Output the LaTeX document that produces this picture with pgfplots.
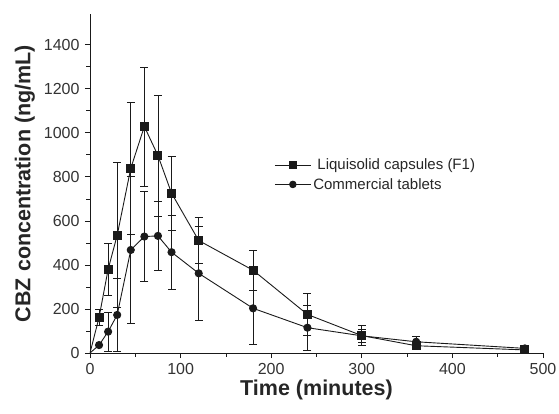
\documentclass[border=0pt]{standalone}
\usepackage{pgfplots}
\pgfplotsset{compat=1.18}
\usepackage{fontspec}
\setmainfont{Liberation Sans}
\definecolor{ink}{HTML}{1A1A1A}
\newcommand{\legfont}{\fontsize{15}{17}\selectfont}
\begin{document}
\begin{tikzpicture}
\useasboundingbox (-90pt,-60pt) rectangle (469pt,353pt);
\begin{axis}[
  at={(0pt,0pt)}, anchor=origin,
  scale only axis, width=453pt, height=339pt,
  xmin=0, xmax=500, ymin=0, ymax=1540,
  axis x line=bottom, axis y line=left,
  axis line style={-, ink, line width=0.9pt},
  xtick={0,100,...,500}, ytick={0,200,...,1400},
  minor x tick num=1, minor y tick num=1,
  tick align=outside,
  major tick length=5pt, minor tick length=3.5pt,
  tick style={ink, line width=0.8pt},
  ticklabel style={font=\fontsize{16}{18}\selectfont, text=black!80},
  xticklabel style={yshift=-2pt},
  yticklabel style={xshift=-2pt},
  /pgf/number format/assume math mode=true,
  /pgf/number format/1000 sep={},
  xlabel={\textbf{Time (minutes)}},
  ylabel={\textbf{CBZ concentration (ng/mL)}},
  label style={font=\fontsize{21.5}{24}\selectfont, text=black!85},
  xlabel style={yshift=2pt},
  ylabel style={yshift=2pt},
  legend style={draw=none, fill=none, at={(0.40,0.585)}, anchor=north west,
    font=\legfont, text=black!85, row sep=3pt,
    nodes={inner sep=2pt}},
  legend cell align=left,
  legend image code/.code={\draw[mark repeat=2, mark phase=2, #1, mark size=3.3pt] plot coordinates {(0pt,0pt) (18pt,0pt) (36pt,0pt)};},
  error bars/error bar style={ink, line width=0.8pt},
  error bars/error mark options={rotate=90, mark size=4pt, ink, line width=0.8pt},
]
% segments from the origin
\addplot[ink, line width=0.9pt, no marks, forget plot] coordinates {(0,0) (10,162)};
\addplot[ink, line width=0.9pt, no marks, forget plot] coordinates {(0,0) (10,36)};
\addplot[ink, line width=0.9pt, mark=square*, mark size=4pt,
  error bars/.cd, y dir=both, y explicit]
coordinates {
 (10,162) +- (0,38)
 (20,380) +- (0,117)
 (30,535) +- (0,330)
 (45,839) +- (0,300)
 (60,1029) +- (0,270)
 (75,897) +- (0,275)
 (90,726) +- (0,168)
 (120,511) +- (0,103)
 (180,376) +- (0,90)
 (240,175) +- (0,97)
 (300,79) +- (0,45)
 (360,33) +- (0,10)
 (480,14) +- (0,5)
};
\addlegendentry{\legfont\ Liquisolid capsules (F1)}
\addplot[ink, line width=0.9pt, mark=*, mark size=3.6pt,
  error bars/.cd, y dir=both, y explicit]
coordinates {
 (10,36) +- (0,0)
 (20,97) +- (0,88)
 (30,173) +- (0,167)
 (45,468) +- (0,333)
 (60,529) +- (0,205)
 (75,532) +- (0,158)
 (90,458) +- (0,167)
 (120,362) +- (0,215)
 (180,203) +- (0,162)
 (240,115) +- (0,101)
 (300,78) +- (0,30)
 (360,51) +- (0,25)
 (480,21) +- (0,5)
};
\addlegendentry{\legfont Commercial tablets}
\end{axis}
\end{tikzpicture}
\end{document}
